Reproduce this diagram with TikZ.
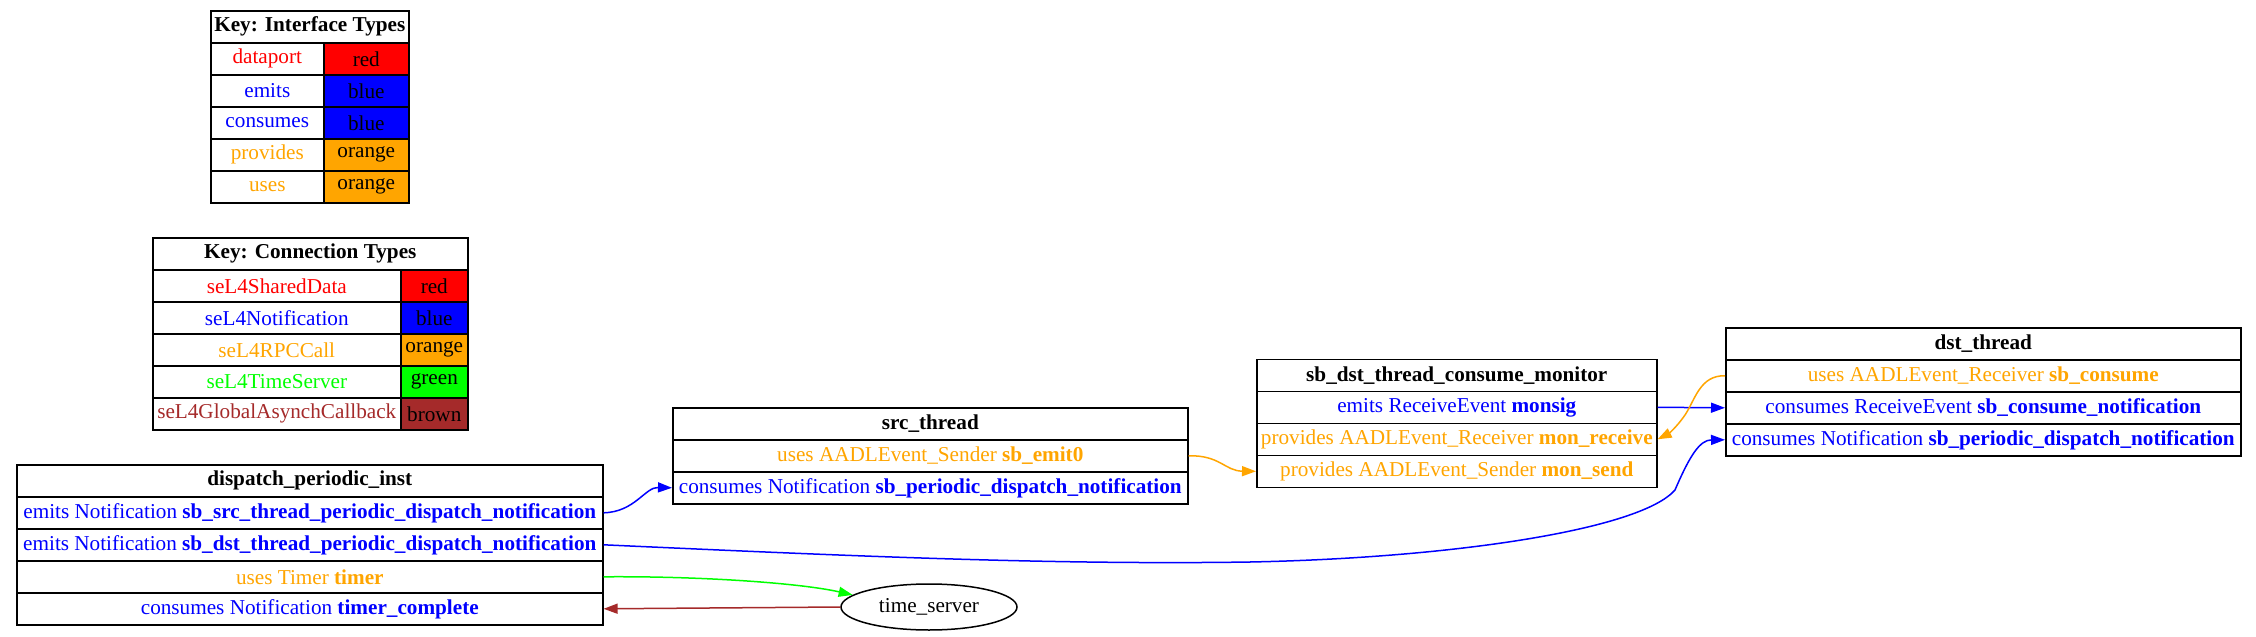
\documentclass[tikz,border=0pt]{standalone}
\usepackage{fontspec}
\setmainfont{Liberation Serif}
\usepackage{xcolor}
\usetikzlibrary{arrows.meta,shapes.geometric}

\definecolor{gvred}{HTML}{FF0000}
\definecolor{gvblue}{HTML}{0000FF}
\definecolor{gvorange}{HTML}{FFA500}
\definecolor{gvgreen}{HTML}{00FF00}
\definecolor{gvbrown}{HTML}{A52A2A}

\tikzset{
    cell/.style={draw, line width=0.8pt, anchor=north west, inner sep=0pt,
        minimum height=16pt, font=\fontsize{10.6}{12.7}\selectfont},
    conn/.style={line width=0.75pt, -{Triangle[length=7pt,width=5pt]}},
}

\begin{document}
\begin{tikzpicture}[x=0.5pt,y=-0.5pt]
    \path[fill=white, use as bounding box] (0,0) rectangle (2256,637);

    % key: interface types
    \node[cell, minimum width=99pt] (ik) at (210,10) {\textbf{Key: Interface Types}};
    \node[cell, minimum width=56.5pt, text=gvred] (ik-dp) at (210,42) {dataport};
    \node[cell, minimum width=42.5pt, fill=gvred] (ik-dpc) at (323,42) {red};
    \node[cell, minimum width=56.5pt, text=gvblue] (ik-em) at (210,74) {emits};
    \node[cell, minimum width=42.5pt, fill=gvblue] (ik-emc) at (323,74) {blue};
    \node[cell, minimum width=56.5pt, text=gvblue] (ik-co) at (210,106) {consumes};
    \node[cell, minimum width=42.5pt, fill=gvblue] (ik-coc) at (323,106) {blue};
    \node[cell, minimum width=56.5pt, text=gvorange] (ik-pr) at (210,138) {provides};
    \node[cell, minimum width=42.5pt, fill=gvorange] (ik-prc) at (323,138) {orange};
    \node[cell, minimum width=56.5pt, text=gvorange] (ik-us) at (210,170) {uses};
    \node[cell, minimum width=42.5pt, fill=gvorange] (ik-usc) at (323,170) {orange};

    % key: connection types
    \node[cell, minimum width=157.5pt] (ck) at (152,237) {\textbf{Key: Connection Types}};
    \node[cell, minimum width=124pt, text=gvred] (ck-sd) at (152,269) {seL4SharedData};
    \node[cell, minimum width=33.5pt, fill=gvred] (ck-sdc) at (400,269) {red};
    \node[cell, minimum width=124pt, text=gvblue] (ck-no) at (152,301) {seL4Notification};
    \node[cell, minimum width=33.5pt, fill=gvblue] (ck-noc) at (400,301) {blue};
    \node[cell, minimum width=124pt, text=gvorange] (ck-rpc) at (152,333) {seL4RPCCall};
    \node[cell, minimum width=33.5pt, fill=gvorange] (ck-rpcc) at (400,333) {orange};
    \node[cell, minimum width=124pt, text=gvgreen] (ck-ts) at (152,365) {seL4TimeServer};
    \node[cell, minimum width=33.5pt, fill=gvgreen] (ck-tsc) at (400,365) {green};
    \node[cell, minimum width=124pt, text=gvbrown] (ck-gac) at (152,397) {seL4GlobalAsynchCallback};
    \node[cell, minimum width=33.5pt, fill=gvbrown] (ck-gacc) at (400,397) {brown};

    % components
    \node[cell, minimum width=293pt] (dpi) at (16,464) {\textbf{dispatch\_periodic\_inst}};
    \node[cell, minimum width=293pt, text=gvblue] (dpi-src) at (16,496) {emits Notification \textbf{sb\_src\_thread\_periodic\_dispatch\_notification}};
    \node[cell, minimum width=293pt, text=gvblue] (dpi-dst) at (16,528) {emits Notification \textbf{sb\_dst\_thread\_periodic\_dispatch\_notification}};
    \node[cell, minimum width=293pt, text=gvorange] (dpi-timer) at (16,560) {uses Timer \textbf{timer}};
    \node[cell, minimum width=293pt, text=gvblue] (dpi-tc) at (16,592) {consumes Notification \textbf{timer\_complete}};

    \node[cell, minimum width=257.5pt] (src) at (672,407) {\textbf{src\_thread}};
    \node[cell, minimum width=257.5pt, text=gvorange] (src-emit) at (672,439) {uses AADLEvent\_Sender \textbf{sb\_emit0}};
    \node[cell, minimum width=257.5pt, text=gvblue] (src-pd) at (672,471) {consumes Notification \textbf{sb\_periodic\_dispatch\_notification}};

    \node[cell, minimum width=200pt] (mon) at (1256,358.5) {\textbf{sb\_dst\_thread\_consume\_monitor}};
    \node[cell, minimum width=200pt, text=gvblue] (mon-sig) at (1256,390.5) {emits ReceiveEvent \textbf{monsig}};
    \node[cell, minimum width=200pt, text=gvorange] (mon-recv) at (1256,422.5) {provides AADLEvent\_Receiver \textbf{mon\_receive}};
    \node[cell, minimum width=200pt, text=gvorange] (mon-send) at (1256,454.5) {provides AADLEvent\_Sender \textbf{mon\_send}};

    \node[cell, minimum width=257.5pt] (dst) at (1725,327) {\textbf{dst\_thread}};
    \node[cell, minimum width=257.5pt, text=gvorange] (dst-cons) at (1725,359) {uses AADLEvent\_Receiver \textbf{sb\_consume}};
    \node[cell, minimum width=257.5pt, text=gvblue] (dst-cn) at (1725,391) {consumes ReceiveEvent \textbf{sb\_consume\_notification}};
    \node[cell, minimum width=257.5pt, text=gvblue] (dst-pd) at (1725,423) {consumes Notification \textbf{sb\_periodic\_dispatch\_notification}};

    \node[draw, ellipse, line width=0.75pt, inner sep=0pt, minimum width=88pt, minimum height=23pt,
        font=\fontsize{10.6}{12.7}\selectfont] (ts) at (929,607) {time\_server};

    % connections
    \draw[conn, gvblue] (dpi-src.east) .. controls (635,512) and (645,487) .. (src-pd.west);
    \draw[conn, gvblue] (dpi-dst.east) .. controls (850,556) and (1050,565) .. (1250,562)
        .. controls (1450,558) and (1640,530) .. (1675,490)
        .. controls (1690,455) and (1700,440) .. (dst-pd.west);
    \draw[conn, gvgreen] (dpi-timer.east) .. controls (700,576) and (800,583) .. (ts.171);
    \draw[conn, gvbrown] (ts.west) -- (dpi-tc.east);
    \draw[conn, gvorange] (src-emit.east) .. controls (1220,455) and (1225,471) .. (mon-send.west);
    \draw[conn, gvblue] (mon-sig.east) -- (dst-cn.west);
    \draw[conn, gvorange] (dst-cons.west) .. controls (1700,375) and (1695,400) .. (1685,415)
        .. controls (1676,428) and (1668,434) .. (mon-recv.east);
\end{tikzpicture}
\end{document}
